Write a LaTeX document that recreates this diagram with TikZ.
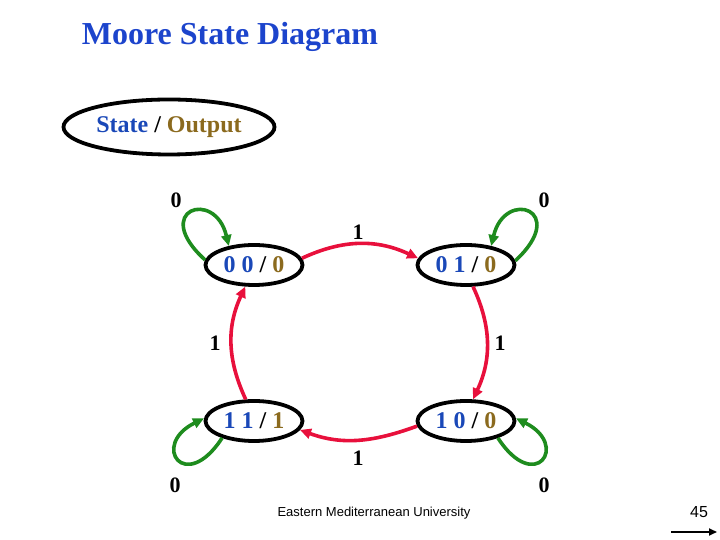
\documentclass[tikz,border=0pt]{standalone}
\usepackage{fontspec}
\setmainfont{Liberation Serif}
\newfontfamily\footfont{Liberation Sans}
\usetikzlibrary{shapes.geometric,arrows.meta}
\definecolor{titleblue}{HTML}{1C44CC}
\definecolor{stblue}{HTML}{1A48B8}
\definecolor{outbrown}{HTML}{8B6A1E}
\definecolor{edgered}{HTML}{E8103C}
\definecolor{loopgreen}{HTML}{1E8C1E}
\tikzset{
  statebox/.style={ellipse,draw=black,line width=3.8pt,minimum width=97pt,minimum height=40pt,inner sep=0pt,font=\fontsize{24}{28}\selectfont\bfseries},
  legendbox/.style={ellipse,draw=black,line width=3.8pt,minimum width=211pt,minimum height=55pt,inner sep=0pt,font=\fontsize{24}{28}\selectfont\bfseries},
  trans/.style={draw=edgered,line width=3.6pt,-{Triangle[length=11pt,width=10pt]}},
  selfloop/.style={draw=loopgreen,line width=3.6pt,-{Triangle[length=11pt,width=10pt]}},
  lbl/.style={font=\fontsize{22}{26}\selectfont\bfseries,inner sep=0pt},
}
\newcommand{\st}[3]{\textcolor{stblue}{#1\ #2}\ /\ \textcolor{outbrown}{#3}}
\begin{document}
\begin{tikzpicture}[x=1pt,y=1pt]
\useasboundingbox (0,0) rectangle (720,540);
% title
\node[font=\fontsize{32}{36}\selectfont\bfseries,text=titleblue,inner sep=0pt] (title) at (230,503) {Moore State Diagram};
% legend
\node[legendbox] (legend) at (169,413) {\textcolor{stblue}{State} / \textcolor{outbrown}{Output}};
% states
\node[statebox] (s00) at (254,275) {\st{0}{0}{0}};
\node[statebox] (s01) at (466,275) {\st{0}{1}{0}};
\node[statebox] (s11) at (254,119) {\st{1}{1}{1}};
\node[statebox] (s10) at (466,119) {\st{1}{0}{0}};
% transitions on 1
\draw[trans] (s00.8) to[out=25,in=155] (s01.172);
\draw[trans] (s01.-72) to[out=-65,in=65] (s10.72);
\draw[trans] (s10.186) to[out=-160,in=-20] (s11.-11);
\draw[trans] (s11.111) to[out=115,in=-115] (s00.-112);
% self loops on 0
\draw[selfloop] (s00.174) .. controls (150,330) and (215,352) .. (s00.143);
\draw[selfloop] (s01.5) .. controls (570,330) and (505,352) .. (s01.37);
\draw[selfloop] (s11.-152) .. controls (185,45) and (150,95) .. (s11.177);
\draw[selfloop] (s10.-28) .. controls (535,45) and (570,95) .. (s10.3);
% labels
\node[lbl] (l1) at (176,340) {0};
\node[lbl] (l2) at (544,340) {0};
\node[lbl] (l3) at (358,308) {1};
\node[lbl] (l4) at (215,197) {1};
\node[lbl] (l5) at (500,197) {1};
\node[lbl] (l6) at (358,82) {1};
\node[lbl] (l7) at (175,55) {0};
\node[lbl] (l8) at (544,55) {0};
% footer
\node[font=\footfont\fontsize{13}{15}\selectfont,inner sep=0pt] (foot) at (374,27) {Eastern Mediterranean University};
\node[font=\footfont\fontsize{16}{18}\selectfont,inner sep=0pt] (page) at (699,28) {45};
\coordinate (arA) at (671,8);
\coordinate (arB) at (717,8);
\draw[line width=1.8pt,-{Triangle[length=8pt,width=7pt]}] (arA) -- (arB);
\end{tikzpicture}
\end{document}
